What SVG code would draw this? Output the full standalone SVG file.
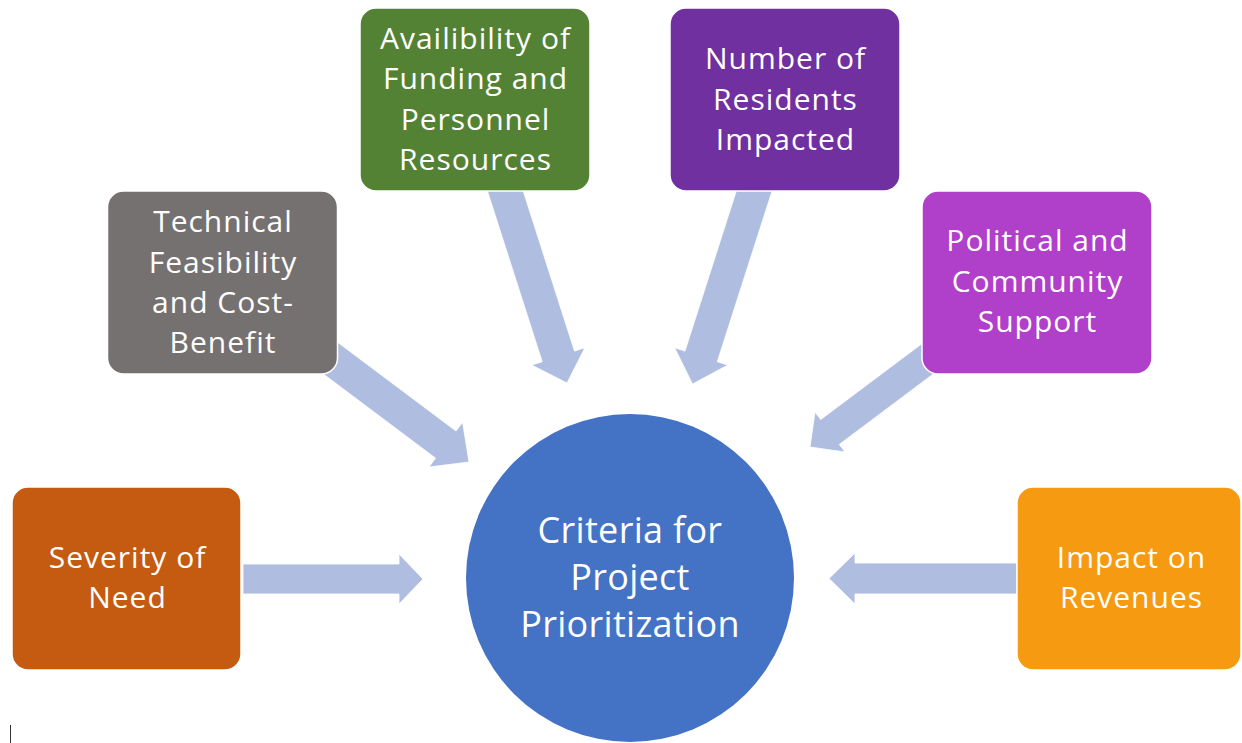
<svg xmlns="http://www.w3.org/2000/svg" width="1242" height="743" viewBox="0 0 1242 743">
<style>
.arrow{fill:#AFBEE0;stroke:#FFFFFF;stroke-width:0.8}
.box{stroke:#FFFFFF;stroke-width:1.5}
.lbl{font-family:"Open Sans","Liberation Sans",sans-serif;font-size:30px;letter-spacing:1px;fill:#FFFFFF;text-anchor:middle;font-variant-ligatures:none}
.big{font-size:36px;letter-spacing:0.3px}
</style>
<rect width="1242" height="743" fill="#FFFFFF"/>
<g id="connectors">
<polygon class="arrow" points="243,564 399,564 399,554 423,579 399,604 399,594 243,594"/>
<polygon class="arrow" points="1017,563 855,563 855,553 829,578.5 855,604 855,594 1017,594"/>
<polygon class="arrow" points="331.2,337.4 456,431 462.6,422.2 469,462 429,467 435.6,458.2 310.8,364.6"/>
<polygon class="arrow" points="487.1,190 522.9,190 574.5,351.1 584.9,347.7 567,383 531.7,365.1 542.2,361.7"/>
<polygon class="arrow" points="772.4,190 736.6,190 685,351.1 674.6,347.7 692.5,384 727.8,365.1 717.3,361.7"/>
<polygon class="arrow" points="955.3,357.4 839.3,444.4 845,452 810,447 815,412 820.7,419.6 936.7,332.6"/>
</g>
<g id="center">
<circle cx="630" cy="578" r="164" fill="#4472C4"/>
<text class="lbl big" x="630" y="543">Criteria for</text>
<text class="lbl big" x="630" y="590">Project</text>
<text class="lbl big" x="630" y="637">Prioritization</text>
</g>
<g id="severity">
<rect class="box" x="12" y="487" width="229" height="183" rx="16" fill="#C55A11"/>
<text class="lbl" x="127.5" y="568">Severity of</text>
<text class="lbl" x="127.5" y="608">Need</text>
</g>
<g id="technical">
<rect class="box" x="107.5" y="191" width="230" height="183" rx="16" fill="#767171"/>
<text class="lbl" x="223" y="232">Technical</text>
<text class="lbl" x="223" y="273">Feasibility</text>
<text class="lbl" x="223" y="313">and Cost-</text>
<text class="lbl" x="223" y="353">Benefit</text>
</g>
<g id="availability">
<rect class="box" x="360" y="8" width="230" height="183" rx="16" fill="#548235"/>
<text class="lbl" x="475.5" y="49">Availibility of</text>
<text class="lbl" x="475.5" y="89">Funding and</text>
<text class="lbl" x="475.5" y="130">Personnel</text>
<text class="lbl" x="475.5" y="170">Resources</text>
</g>
<g id="residents">
<rect class="box" x="670" y="8" width="230" height="183" rx="16" fill="#7030A0"/>
<text class="lbl" x="785.5" y="69">Number of</text>
<text class="lbl" x="785.5" y="110">Residents</text>
<text class="lbl" x="785.5" y="150">Impacted</text>
</g>
<g id="political">
<rect class="box" x="922" y="191" width="230" height="183" rx="16" fill="#B03FCA"/>
<text class="lbl" x="1037.5" y="251">Political and</text>
<text class="lbl" x="1037.5" y="292">Community</text>
<text class="lbl" x="1037.5" y="332">Support</text>
</g>
<g id="revenues">
<rect class="box" x="1017" y="487" width="224" height="183" rx="16" fill="#F69A12"/>
<text class="lbl" x="1131.5" y="568">Impact on</text>
<text class="lbl" x="1131.5" y="608">Revenues</text>
</g>
<line x1="10.5" y1="725" x2="10.5" y2="743" stroke="#333333" stroke-width="1"/>
</svg>
